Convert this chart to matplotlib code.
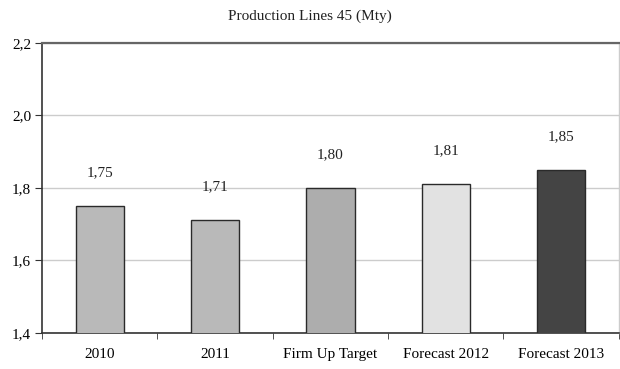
import matplotlib.pyplot as plt
import numpy as np

# Production per line, million tonnes per year
categories = ['2010', '2011', 'Firm Up Target', 'Forecast 2012', 'Forecast 2013']
values = [1.75, 1.71, 1.80, 1.81, 1.85]
colors = ['#b9b9b9', '#b9b9b9', '#adadad', '#e2e2e2', '#444444']

plt.rcParams['font.family'] = ['Liberation Serif', 'DejaVu Serif']

fig = plt.figure(figsize=(6.2, 3.69), dpi=100)
ax = fig.add_axes([0.068, 0.098, 0.930, 0.786])

x = np.arange(len(categories))
bars = ax.bar(x, values, width=0.42, color=colors, edgecolor='#2a2a2a', linewidth=1.0,
              bottom=0, zorder=3)

for xi, v in zip(x, values):
    ax.annotate(f'{v:.2f}'.replace('.', ','), (xi, v), xytext=(0, 24),
                textcoords='offset points', ha='center', va='center', fontsize=11, color='#222222')

ax.set_ylim(1.4, 2.2)
ax.set_xlim(-0.5, len(categories) - 0.5)
ax.set_yticks([1.4, 1.6, 1.8, 2.0, 2.2])
ax.set_yticklabels(['1,4', '1,6', '1,8', '2,0', '2,2'], fontsize=11)
ax.yaxis.grid(True, color='#cccccc', linewidth=1.0, zorder=0)

# category labels centred, tick marks at category boundaries
ax.set_xticks(x)
ax.set_xticklabels(categories, fontsize=11)
ax.tick_params(axis='x', length=0, pad=11)
ax.set_xticks(np.arange(len(categories) + 1) - 0.5, minor=True)
ax.tick_params(axis='x', which='minor', length=4, direction='out', color='#333333')
ax.tick_params(axis='y', length=5, direction='out', color='#333333', pad=3)

for side in ['left', 'bottom']:
    ax.spines[side].set_color('#333333')
    ax.spines[side].set_linewidth(1.2)
ax.spines['top'].set_color('#666666')
ax.spines['top'].set_linewidth(1.6)
ax.spines['right'].set_color('#cccccc')
ax.spines['right'].set_linewidth(1.0)

fig.text(0.5, 0.955, 'Production Lines 45 (Mty)', ha='center', va='center', fontsize=11, color='#222222')

fig.savefig('out.png', dpi=100)
